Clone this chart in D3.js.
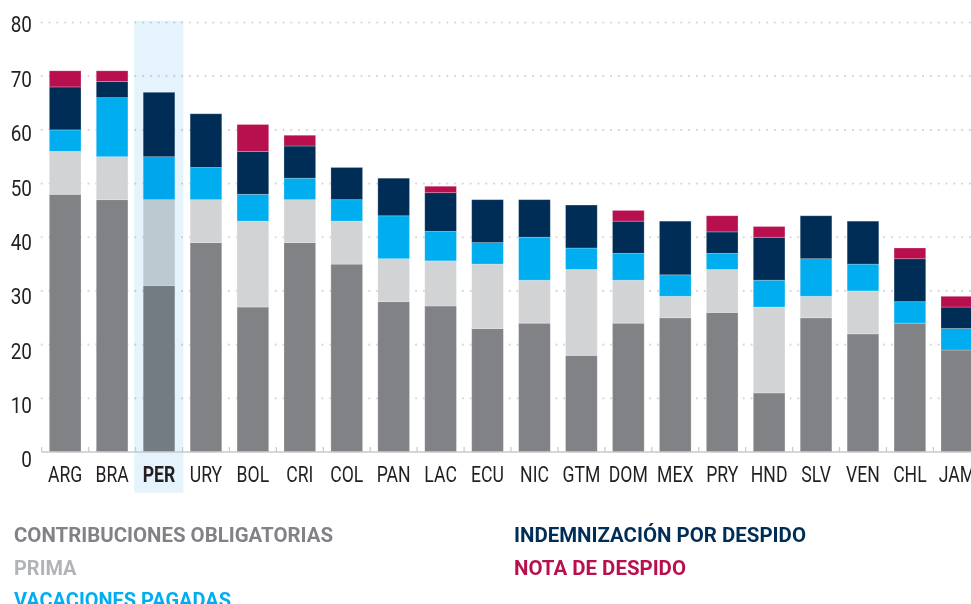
<!DOCTYPE html>
<html>
<head>
<meta charset="utf-8">
<script src="https://cdn.jsdelivr.net/npm/d3@7"></script>
<style>
  html, body { margin: 0; padding: 0; background: #ffffff; overflow: hidden; }
  svg { display: block; }
  text { font-family: Roboto, "Noto Sans", sans-serif; }
</style>
</head>
<body>
<svg id="chart" width="971" height="604"></svg>
<script>
// ---------- data ----------
const categories = ["ARG","BRA","PER","URY","BOL","CRI","COL","PAN","LAC","ECU","NIC","GTM","DOM","MEX","PRY","HND","SLV","VEN","CHL","JAM"];
const contribuciones = [48,47,31,39,27,39,35,28,27.2,23,24,18,24,25,26,11,25,22,24,19];
const prima          = [8,8,16,8,16,8,8,8,8.4,12,8,16,8,4,8,16,4,8,0,0];
const vacaciones     = [4,11,8,6,5,4,4,8,5.5,4,8,4,5,4,3,5,7,5,4,4];
const indemnizacion  = [8,3,12,10,8,6,6,7,7.2,8,7,8,6,10,4,8,8,8,8,4];
const nota           = [3,2,0,0,5,2,0,0,1.2,0,0,0,2,0,3,2,0,0,2,2];
const yTickValues = [0,10,20,30,40,50,60,70,80];
const highlighted = "PER";
const seriesNames = ["CONTRIBUCIONES OBLIGATORIAS","PRIMA","VACACIONES PAGADAS","INDEMNIZACIÓN POR DESPIDO","NOTA DE DESPIDO"];

// ---------- styles / layout ----------
const seriesKeys = ["contribuciones","prima","vacaciones","indemnizacion","nota"];
const barColors = {contribuciones:"#808285", prima:"#d1d3d4", vacaciones:"#00aeef", indemnizacion:"#002d56", nota:"#b80f4e"};
const legendColors = ["#808285","#b1b3b6","#00aeef","#002d56","#b80f4e"];
const legendLayout = [
  {x: 14, y: 542, w: 319}, {x: 14, y: 575, w: 62.5}, {x: 14, y: 607, w: 217},
  {x: 514, y: 542, w: 292}, {x: 514, y: 575, w: 172}
];

const rows = categories.map((c,i) => ({
  cat: c,
  contribuciones: contribuciones[i],
  prima: prima[i],
  vacaciones: vacaciones[i],
  indemnizacion: indemnizacion[i],
  nota: nota[i]
}));

const svg = d3.select("#chart");

const x = d3.scaleBand().domain(categories).range([41.7, 980.3]).paddingInner(0.325).paddingOuter(0.1625);
const y = d3.scaleLinear().domain([0,80]).range([452,22.5]);
const yLab = d3.scaleLinear().domain([0,80]).range([459.5,24.5]);

// gridlines (dotted)
svg.append("g").selectAll("line")
  .data(yTickValues.filter(v => v > 0))
  .join("line")
  .attr("x1", 41.7).attr("x2", 971)
  .attr("y1", d => y(d)).attr("y2", d => y(d))
  .attr("stroke", "#d6d7d9")
  .attr("stroke-width", 2.2)
  .attr("stroke-linecap", "round")
  .attr("stroke-dasharray", "0,7.8");

// y labels
svg.append("g").selectAll("text")
  .data(yTickValues)
  .join("text")
  .attr("transform", d => `translate(32,${yLab(d)}) scale(0.86,1)`)
  .attr("dy", "0.36em")
  .attr("text-anchor", "end")
  .attr("font-size", 22)
  .attr("fill", "#231f20")
  .text(d => d);

// stacked bars
const stacked = d3.stack().keys(seriesKeys)(rows);
svg.append("g").selectAll("g")
  .data(stacked)
  .join("g")
  .attr("fill", d => barColors[d.key])
  .selectAll("rect")
  .data(d => d.filter(s => s[1] - s[0] > 0))
  .join("rect")
  .attr("x", d => x(d.data.cat))
  .attr("width", x.bandwidth())
  .attr("y", d => y(d[1]))
  .attr("height", d => y(d[0]) - y(d[1]))
  .attr("stroke", "#ffffff")
  .attr("stroke-opacity", 0.3)
  .attr("stroke-width", 0.8);

// highlight band (multiply over bars)
svg.append("rect")
  .attr("x", x(highlighted) - 9)
  .attr("width", x.bandwidth() + 17.5)
  .attr("y", 20.7)
  .attr("height", 472)
  .attr("fill", "#e5f4fc")
  .style("mix-blend-mode", "multiply");

// x axis baseline and ticks
const axisG = svg.append("g");
axisG.append("line")
  .attr("x1", 41.7).attr("x2", 971)
  .attr("y1", y(0)).attr("y2", y(0))
  .attr("stroke", "#c7c8ca").attr("stroke-width", 1.5);
axisG.selectAll("line.tick")
  .data(categories)
  .join("line")
  .attr("class", "tick")
  .attr("x1", d => x(d) - (x.step() - x.bandwidth()) / 2)
  .attr("x2", d => x(d) - (x.step() - x.bandwidth()) / 2)
  .attr("y1", y(0) - 5).attr("y2", y(0))
  .attr("stroke", "#c7c8ca").attr("stroke-width", 1.2);

// x labels
svg.append("g").selectAll("text")
  .data(categories)
  .join("text")
  .attr("transform", d => `translate(${x(d) + x.bandwidth() / 2},482) scale(0.8,1)`)
  .attr("text-anchor", "middle")
  .attr("font-size", 22)
  .attr("font-weight", d => d === highlighted ? "bold" : "normal")
  .attr("fill", "#231f20")
  .text(d => d);

// legend
svg.append("g").selectAll("text")
  .data(seriesNames)
  .join("text")
  .attr("x", (d,i) => legendLayout[i].x)
  .attr("y", (d,i) => legendLayout[i].y)
  .attr("textLength", (d,i) => legendLayout[i].w)
  .attr("lengthAdjust", "spacingAndGlyphs")
  .attr("font-size", 21)
  .attr("font-weight", "bold")
  .attr("fill", (d,i) => legendColors[i])
  .text(d => d);
</script>
</body>
</html>
